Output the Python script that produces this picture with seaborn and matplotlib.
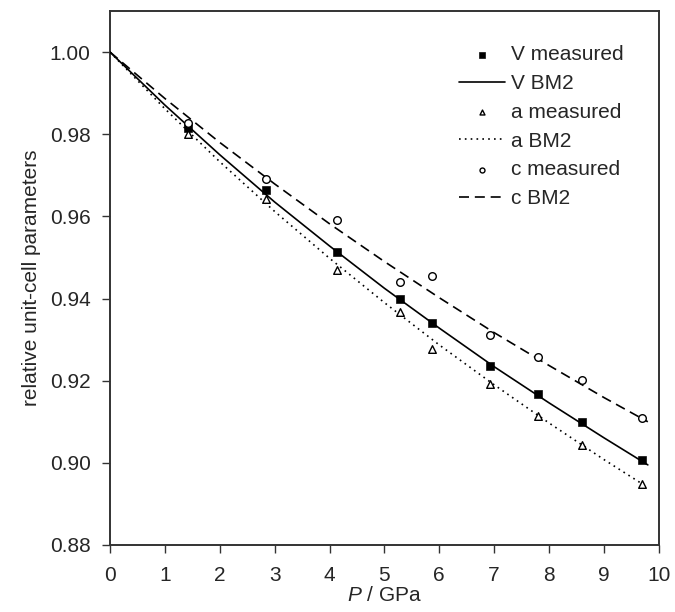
import numpy as np
import pandas as pd
import matplotlib
matplotlib.use("Agg")
import matplotlib.pyplot as plt
import seaborn as sns

# -----------------------------
# 1. Data
# -----------------------------
p_meas = [1.43, 2.84, 4.14, 5.28, 5.86, 6.93, 7.79, 8.60, 9.70]
v_meas = [0.9814, 0.9664, 0.9514, 0.9399, 0.9341, 0.9236, 0.9168, 0.9100, 0.9007]
a_meas = [0.9800, 0.9642, 0.9470, 0.9368, 0.9277, 0.9192, 0.9115, 0.9044, 0.8949]
c_meas = [0.9828, 0.9691, 0.9590, 0.9441, 0.9455, 0.9311, 0.9257, 0.9202, 0.9109]

p_fit = [0, 1, 2, 3, 4, 5, 6, 7, 8, 9, 9.8]
v_fit = [1.0, 0.9871, 0.9750, 0.9635, 0.9528, 0.9425, 0.9328, 0.9234, 0.9146, 0.9061, 0.8995]
a_fit = [1.0, 0.9862, 0.9733, 0.9612, 0.9498, 0.9390, 0.9287, 0.9190, 0.9097, 0.9008, 0.8940]
c_fit = [1.0, 0.9887, 0.9780, 0.9679, 0.9582, 0.9490, 0.9402, 0.9317, 0.9237, 0.9159, 0.9100]

y_ticks = [0.88, 0.90, 0.92, 0.94, 0.96, 0.98, 1.00]
x_ticks = list(range(0, 11))

# -----------------------------
# 2. Style
# -----------------------------
sns.set_style("ticks")
plt.rcParams['font.family'] = ['Liberation Sans', 'DejaVu Sans']
plt.rcParams['mathtext.fontset'] = 'custom'
plt.rcParams['mathtext.rm'] = 'Liberation Sans'
plt.rcParams['mathtext.it'] = 'Liberation Sans:italic'

fig = plt.figure(figsize=(6.75, 6.12), dpi=100)
ax = fig.add_axes([0.163, 0.1095, 0.813, 0.8725])

# -----------------------------
# 3. Plot
# -----------------------------
sns.scatterplot(x=p_meas, y=v_meas, ax=ax, marker='s', color='black',
                edgecolor='black', s=32, label='V measured', zorder=4)
sns.lineplot(x=p_fit, y=v_fit, ax=ax, color='black', linewidth=1.2,
             label='V BM2', zorder=3)
sns.scatterplot(x=p_meas, y=a_meas, ax=ax, marker='^', color='white',
                edgecolor='black', linewidth=1.0, s=30, label='a measured', zorder=4)
sns.lineplot(x=p_fit, y=a_fit, ax=ax, color='black', linewidth=1.2,
             linestyle=(0, (1, 2.5)), label='a BM2', zorder=3)
sns.scatterplot(x=p_meas, y=c_meas, ax=ax, marker='o', color='white',
                edgecolor='black', linewidth=1.0, s=30, label='c measured', zorder=4)
sns.lineplot(x=p_fit, y=c_fit, ax=ax, color='black', linewidth=1.2,
             linestyle=(0, (6, 3.5)), label='c BM2', zorder=3)

ax.set_xlim(0, 10)
ax.set_ylim(0.88, 1.01)
ax.set_xticks(x_ticks)
ax.set_yticks(y_ticks)
ax.set_yticklabels([f"{t:.2f}" for t in y_ticks])
ax.tick_params(direction='out', length=6, width=1, labelsize=15, color='#333333')
ax.tick_params(axis='x', pad=9)
ax.tick_params(axis='y', pad=8)
for s in ax.spines.values():
    s.set_linewidth(1.4)
    s.set_color('#333333')

ax.set_xlabel(r'$P$ / GPa', fontsize=15, labelpad=1)
ax.set_ylabel('relative unit-cell parameters', fontsize=15, labelpad=6)

handles, labels = ax.get_legend_handles_labels()
order = ['V measured', 'V BM2', 'a measured', 'a BM2', 'c measured', 'c BM2']
hmap = dict(zip(labels, handles))
ax.legend([hmap[k] for k in order], order, loc='upper left',
          bbox_to_anchor=(0.636, 0.936), frameon=False, fontsize=15,
          handlelength=2.2, handletextpad=0.3, labelspacing=0.47,
          borderpad=0, borderaxespad=0, markerscale=0.65)

fig.savefig("out.png", dpi=100)
